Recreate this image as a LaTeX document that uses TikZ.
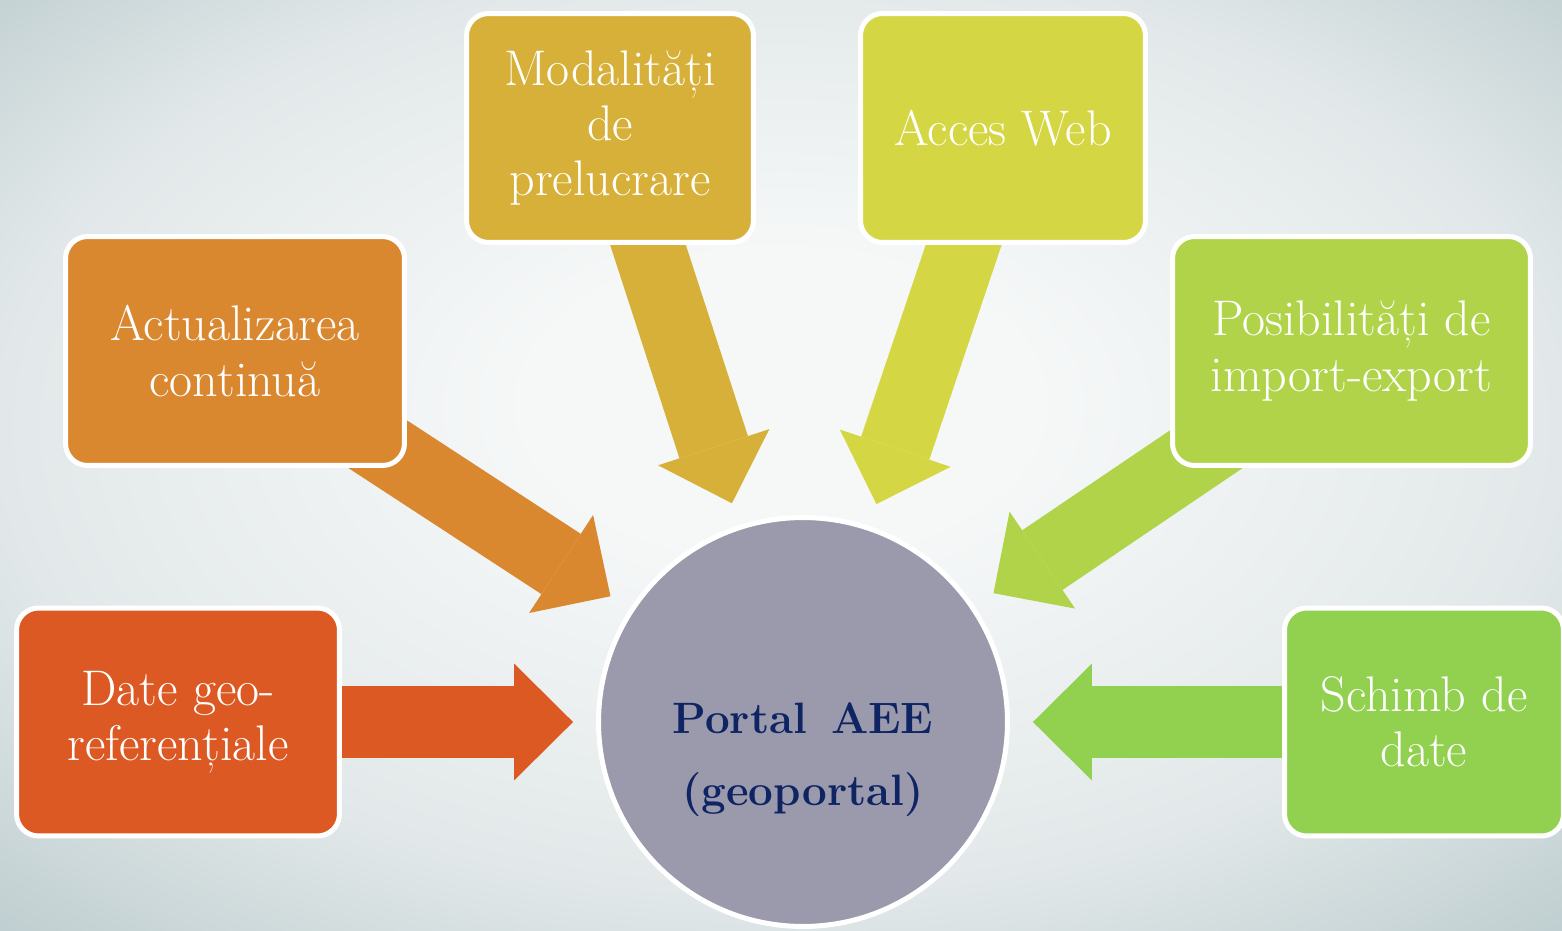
\documentclass[tikz,border=0pt]{standalone}
\usepackage{fontspec}
\usetikzlibrary{arrows.meta,calc}
\definecolor{cRed}{RGB}{220,89,36}
\definecolor{cOrange}{RGB}{217,136,48}
\definecolor{cMustard}{RGB}{214,176,56}
\definecolor{cYellow}{RGB}{213,214,67}
\definecolor{cLime}{RGB}{176,211,74}
\definecolor{cGreen}{RGB}{146,208,80}
\definecolor{cCirc}{RGB}{154,154,172}
\definecolor{cNavy}{RGB}{14,36,99}
\definecolor{bgIn}{RGB}{246,248,248}
\definecolor{bgMid}{RGB}{226,232,233}
\definecolor{bgOut}{RGB}{192,207,209}
\pgfdeclareradialshading{bgshade}{\pgfpoint{0bp}{4bp}}{color(0bp)=(bgIn); color(8bp)=(bgIn); color(25bp)=(bgMid); color(36bp)=(bgOut); color(50bp)=(bgOut)}
\pgfdeclarelayer{bglayer}
\pgfdeclarelayer{arrlayer}
\pgfsetlayers{bglayer,arrlayer,main}
\tikzset{
  box/.style={rectangle, rounded corners=0.44cm, draw=white, line width=0.1cm,
    text=white, align=center, inner sep=0pt,
    font=\fontsize{28.5}{31.5}\selectfont},
  fat/.style={line width=1.44cm,
    -{Triangle[length=1.18cm,width=2.34cm,line width=0pt]}},
}
\begin{document}
\begin{tikzpicture}[x=0.02cm,y=-0.02cm]
\useasboundingbox (0,0) rectangle (1562,930);
\begin{pgfonlayer}{bglayer}
\shade[shading=bgshade] (0,0) rectangle (1562,930);
\end{pgfonlayer}

\node[box, fill=cRed, minimum width=6.46cm, minimum height=4.56cm] (date) at (178,722) {Date geo-\\referențiale};
\node[box, fill=cOrange, minimum width=6.78cm, minimum height=4.58cm] (act) at (235,351) {Actualizarea\\continuă};
\node[box, fill=cMustard, minimum width=5.74cm, minimum height=4.58cm] (mod) at (610,128) {Modalități\\de\\prelucrare};
\node[box, fill=cYellow, minimum width=5.70cm, minimum height=4.58cm] (acc) at (1003,128) {Acces Web};
\node[box, fill=cLime, minimum width=7.16cm, minimum height=4.58cm] (pos) at (1351.5,351) {Posibilități de\\import-export};
\node[box, fill=cGreen, minimum width=5.58cm, minimum height=4.56cm] (sch) at (1424,722) {Schimb de\\date};

\node[circle, fill=cCirc, draw=white, line width=0.1cm, minimum size=8.18cm, inner sep=0pt] (portal) at (803,722) {};
\node[text=cNavy, align=center, font=\bfseries\fontsize{25}{41}\selectfont] (ptext) at (803,760) {Portal\hspace{0.55em}AEE\\(geoportal)};

\begin{pgfonlayer}{arrlayer}
\draw[fat, cRed] (date.center) -- ($(portal.center)!4.6cm!(date.center)$);
\draw[fat, cOrange] (act.center) -- ($(portal.center)!4.6cm!(act.center)$);
\draw[fat, cMustard] (mod.center) -- ($(portal.center)!4.6cm!(mod.center)$);
\draw[fat, cYellow] (acc.center) -- ($(portal.center)!4.6cm!(acc.center)$);
\draw[fat, cLime] (pos.center) -- ($(portal.center)!4.6cm!(pos.center)$);
\draw[fat, cGreen] (sch.center) -- ($(portal.center)!4.6cm!(sch.center)$);
\end{pgfonlayer}
\end{tikzpicture}
\end{document}
